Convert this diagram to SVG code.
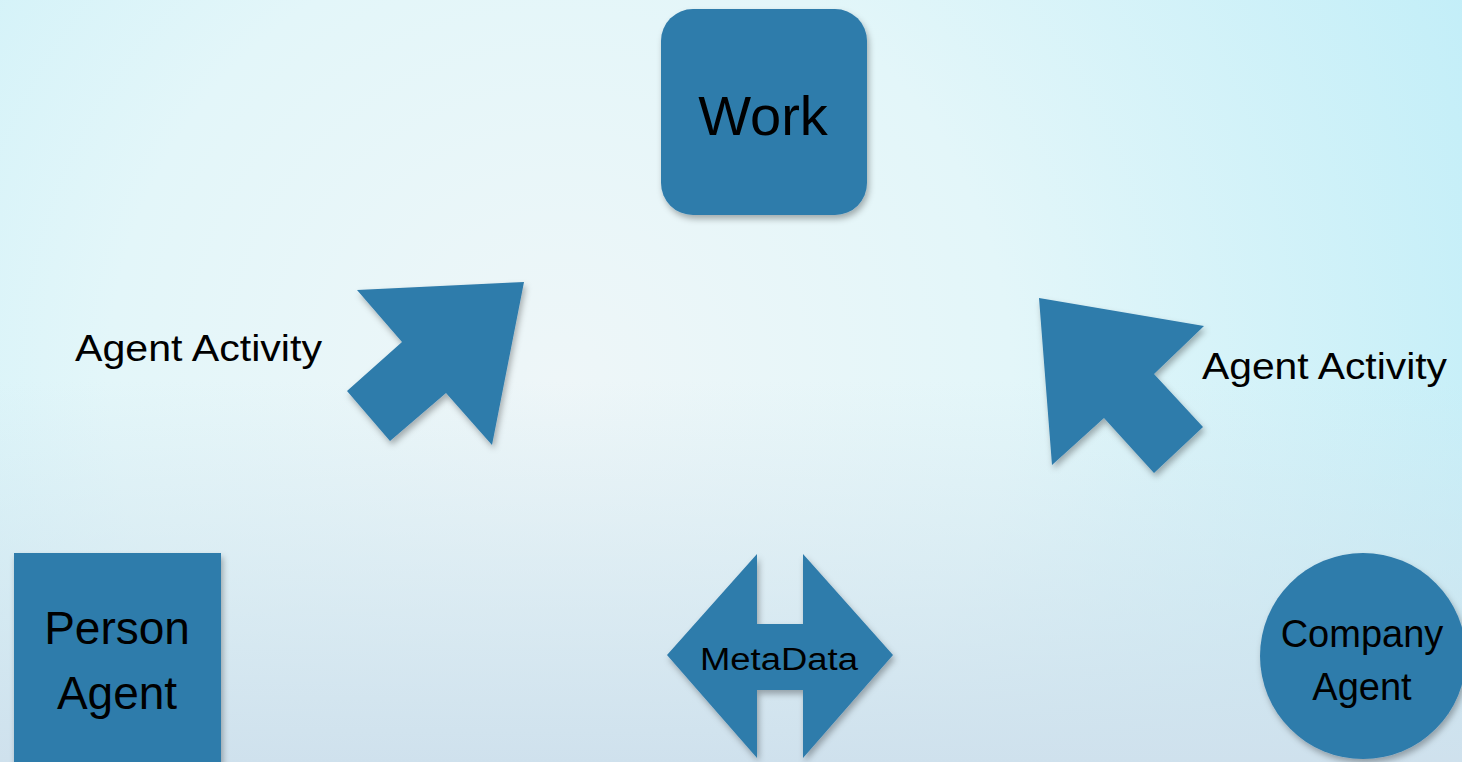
<svg xmlns="http://www.w3.org/2000/svg" width="1462" height="762" viewBox="0 0 1462 762">
<defs>
<radialGradient id="bg" cx="560" cy="380" r="1000" gradientUnits="userSpaceOnUse">
<stop offset="0" stop-color="#eef6f8"/>
<stop offset="0.45" stop-color="#e3f6f9"/>
<stop offset="1" stop-color="#c2eef8"/>
</radialGradient>
<linearGradient id="bot" x1="0" y1="0" x2="0" y2="1">
<stop offset="0.5" stop-color="#d2e4ee" stop-opacity="0"/>
<stop offset="1" stop-color="#cfe1ed" stop-opacity="1"/>
</linearGradient>
<filter id="sh" x="-20%" y="-20%" width="140%" height="140%">
<feDropShadow dx="2" dy="4" stdDeviation="3" flood-color="#000" flood-opacity="0.3"/>
</filter>
</defs>
<style>
.shape{fill:#2f7bab;filter:url(#sh)}
.t{font-family:"Liberation Sans",Arial,sans-serif;fill:#000;text-anchor:middle}
.lbl{font-family:"Liberation Sans",Arial,sans-serif;fill:#000}
</style>
<rect width="1462" height="762" fill="url(#bg)"/>
<rect width="1462" height="762" fill="url(#bot)"/>
<g id="connectors">
<polygon class="shape" points="357,290 524,282 492,445 446,393 390,441 347,391 402,342"/>
<polygon class="shape" points="1039,298 1204,326 1154,374 1203,427 1154,473 1104,418 1052,465"/>
<text class="lbl" x="75" y="361" font-size="36" textLength="247" lengthAdjust="spacingAndGlyphs">Agent Activity</text>
<text class="lbl" x="1202" y="379" font-size="36" textLength="245" lengthAdjust="spacingAndGlyphs">Agent Activity</text>
</g>
<g id="work">
<rect class="shape" x="661" y="9" width="206" height="206" rx="32"/>
<text class="t" x="763" y="135" font-size="56">Work</text>
</g>
<g id="person-agent">
<rect class="shape" x="14" y="553" width="207" height="215"/>
<text class="t" x="117" y="644" font-size="46">Person</text>
<text class="t" x="117" y="709" font-size="46">Agent</text>
</g>
<g id="company-agent">
<circle class="shape" cx="1363" cy="656" r="103"/>
<text class="t" x="1362" y="647" font-size="38">Company</text>
<text class="t" x="1362" y="700" font-size="38">Agent</text>
</g>
<g id="metadata">
<polygon class="shape" points="757,554 757,624 803,624 803,554 893,655 803,758 803,690 757,690 757,758 667,655"/>
<text class="t" x="779" y="670" font-size="31" textLength="158" lengthAdjust="spacingAndGlyphs">MetaData</text>
</g>
</svg>
